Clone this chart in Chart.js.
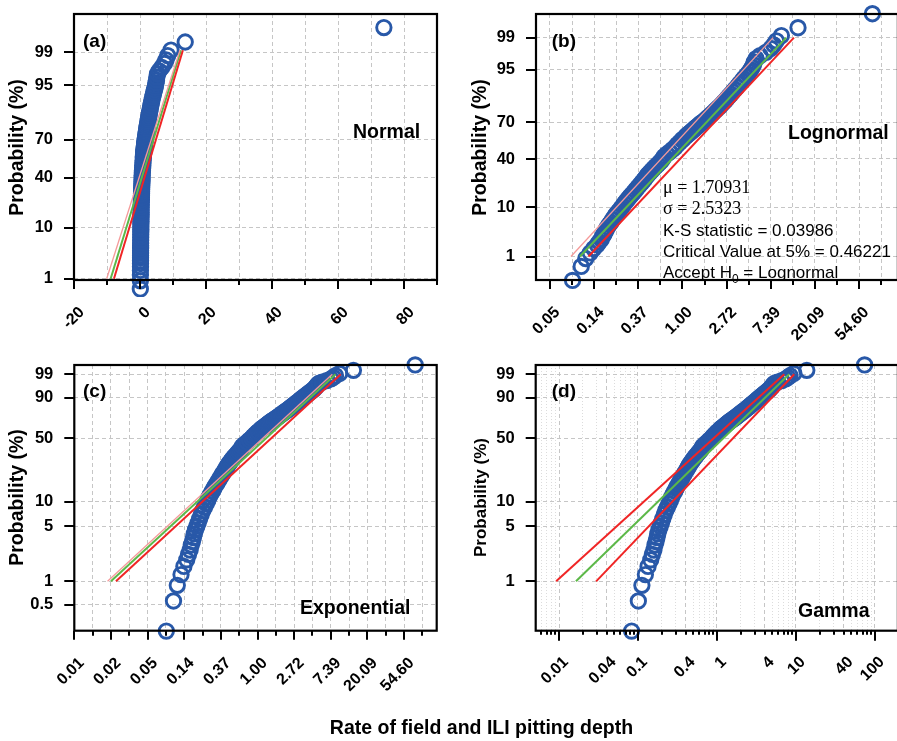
<!DOCTYPE html>
<html>
<head>
<meta charset="utf-8">
<script src="https://cdn.jsdelivr.net/npm/chart.js@4.4.1/dist/chart.umd.min.js"></script>
<style>
  html, body { margin: 0; padding: 0; background: #fff; width: 897px; height: 741px; overflow: hidden; }
  canvas { position: absolute; }
  #xtitle {
    position: absolute; left: 0; top: 718px; width: 963px; text-align: center;
    font: bold 19.5px "Liberation Sans", Arial, sans-serif; line-height: 19.5px; color: #000;
  }
</style>
</head>
<body>
<canvas id="pa" width="448" height="345" style="left:0;top:0"></canvas>
<canvas id="pb" width="460" height="345" style="left:448px;top:0"></canvas>
<canvas id="pc" width="448" height="396" style="left:0;top:345px"></canvas>
<canvas id="pd" width="460" height="396" style="left:448px;top:345px"></canvas>
<div id="xtitle">Rate of field and ILI pitting depth</div>
<script>
// cumulative probability (%) of each pit and its rate
const probPct = [0.23, 0.56, 0.89, 1.22, 1.55, 1.88, 2.2, 2.5, 2.9, 3.2,
  3.6, 4.0, 4.5, 5.0, 5.5, 6.2, 7.0, 7.8, 8.6, 9.5,
  10.5, 11.5, 12.5, 13.5, 14.5, 15.5, 16.7, 18, 19.5, 21,
  22.5, 24, 25.5, 27, 28, 29.5, 31, 32.5, 34, 35.5,
  37, 38.5, 40, 42, 44, 46, 48, 50, 52, 54,
  56, 57, 59, 60, 61, 62, 63, 64, 65, 66,
  67, 68, 69, 70, 71, 72, 73, 74, 75, 76,
  77, 78, 79, 80, 81, 82, 83, 84, 85, 86,
  87, 88, 89, 90, 91, 92, 92.7, 93.4, 94.0, 94.5,
  95.0, 95.5, 96.0, 96.5, 97.0, 97.4, 97.8, 98.2, 98.5, 98.8,
  99.11, 99.44, 99.77];
const rate = [0.083, 0.101, 0.112, 0.124, 0.134, 0.145, 0.152, 0.159, 0.164, 0.169,
  0.174, 0.178, 0.184, 0.191, 0.198, 0.206, 0.215, 0.224, 0.235, 0.247,
  0.258, 0.268, 0.280, 0.292, 0.303, 0.315, 0.330, 0.345, 0.362, 0.380,
  0.398, 0.415, 0.432, 0.448, 0.460, 0.480, 0.500, 0.522, 0.545, 0.570,
  0.595, 0.620, 0.640, 0.660, 0.70, 0.75, 0.80, 0.85, 0.89, 0.94,
  0.99, 1.02, 1.08, 1.11, 1.15, 1.19, 1.23, 1.27, 1.31, 1.35,
  1.40, 1.45, 1.50, 1.56, 1.63, 1.69, 1.75, 1.81, 1.88, 1.95,
  2.02, 2.10, 2.18, 2.27, 2.36, 2.45, 2.55, 2.65, 2.75, 2.87,
  3.00, 3.13, 3.28, 3.45, 3.63, 3.85, 4.00, 4.20, 4.40, 4.55,
  4.70, 4.85, 5.0, 5.1, 5.3, 5.8, 6.6, 7.4, 7.9, 8.4,
  9.4, 13.7, 73.9];

// fitted lines and bounds: probability at both ends, rate at both ends
const lineP = [1, 99];
const normLineP = [1, 99.1];
const normPinkX = [-10.1, 12.1];
const normGreenX = [-8.9, 12.4];
const normRedX = [-7.9, 13.0];
const lognPinkX = [0.080, 7.8];
const lognGreenX = [0.098, 10.5];
const lognRedX = [0.119, 12.5];
const expoPinkX = [0.0167, 7.7];
const expoGreenX = [0.0183, 8.4];
const expoRedX = [0.021, 9.7];
const gammaRedLoX = [0.0092, 7.1];
const gammaGreenX = [0.0164, 8.2];
const gammaRedHiX = [0.0295, 9.5];

// tick labels
const yTicksAB = [1, 10, 40, 70, 95, 99];
const yTicksC = [0.5, 1, 5, 10, 50, 90, 99];
const yTicksD = [1, 5, 10, 50, 90, 99];
const xTicksA = [-20, -10, 0, 10, 20, 30, 40, 50, 60, 70, 80, 90];
const xExpE = [-5, -4, -3, -2, -1, 0, 1, 2, 3, 4];
const xLabelsE = ['0.01', '0.02', '0.05', '0.14', '0.37', '1.00', '2.72', '7.39', '20.09', '54.60'];
const xTicksD = [0.01, 0.04, 0.1, 0.4, 1, 4, 10, 40, 100];
const xLabelsD = ['0.01', '0.04', '0.1', '0.4', '1', '4', '10', '40', '100'];

const BLUE = '#2858a8';
const RED = '#f02525';
const GREEN = '#5cb848';
const PINK = '#f59a9a';
const GRID = '#c6c6c6';
const SANS = '"Liberation Sans", Arial, sans-serif';
const SERIF = '"Liberation Serif", "Times New Roman", serif';

Chart.defaults.font.family = SANS;
Chart.defaults.color = '#000';

// probability paper scales
function normInv(p) {
  const a = [-3.969683028665376e+01, 2.209460984245205e+02, -2.759285104469687e+02, 1.383577518672690e+02, -3.066479806614716e+01, 2.506628277459239e+00];
  const b = [-5.447609879822406e+01, 1.615858368580409e+02, -1.556989798598866e+02, 6.680131188771972e+01, -1.328068155288572e+01];
  const c = [-7.784894002430293e-03, -3.223964580411365e-01, -2.400758277161838e+00, -2.549732539343734e+00, 4.374664141464968e+00, 2.938163982698783e+00];
  const d = [7.784695709041462e-03, 3.224671290700398e-01, 2.445134137142996e+00, 3.754408661907416e+00];
  let q, r;
  if (p < 0.02425) {
    q = Math.sqrt(-2 * Math.log(p));
    return (((((c[0]*q+c[1])*q+c[2])*q+c[3])*q+c[4])*q+c[5]) / ((((d[0]*q+d[1])*q+d[2])*q+d[3])*q+1);
  }
  if (p > 1 - 0.02425) {
    q = Math.sqrt(-2 * Math.log(1 - p));
    return -(((((c[0]*q+c[1])*q+c[2])*q+c[3])*q+c[4])*q+c[5]) / ((((d[0]*q+d[1])*q+d[2])*q+d[3])*q+1);
  }
  q = p - 0.5; r = q * q;
  return (((((a[0]*r+a[1])*r+a[2])*r+a[3])*r+a[4])*r+a[5])*q / (((((b[0]*r+b[1])*r+b[2])*r+b[3])*r+b[4])*r+1);
}
const PAPER = {
  normal: pct => normInv(pct / 100),
  weibull: pct => Math.log(-Math.log(1 - pct / 100)),
};

class ProbScale extends Chart.Scale {
  determineDataLimits() { this.min = this.options.min; this.max = this.options.max; }
  buildTicks() { return []; }
  configure() {
    super.configure();
    this._f = PAPER[this.options.paper];
    this._t0 = this._f(this.min);
    this._t1 = this._f(this.max);
  }
  getLabelForValue(v) { return String(v); }
  getPixelForValue(v) { return this.getPixelForDecimal((this._f(v) - this._t0) / (this._t1 - this._t0)); }
  getValueForPixel() { return null; }
}
ProbScale.id = 'prob';
ProbScale.defaults = {};
Chart.register(ProbScale);

const pts = (xs, ps) => xs.map((x, i) => ({ x, y: ps[i] }));

function lineSet(xs, ps, color, width) {
  return { data: pts(xs, ps), showLine: true, borderColor: color, borderWidth: width, pointRadius: 0, fill: false };
}

function pointSet(clip) {
  return {
    data: pts(rate, probPct), pointRadius: 7.2, pointBorderWidth: 2.9,
    pointBorderColor: BLUE, pointBackgroundColor: 'rgba(0,0,0,0)', clip,
  };
}

function eTicks(lo, hi) {
  const out = [];
  xExpE.forEach((k, i) => {
    if (k >= lo - 0.01 && k <= hi) out.push({ value: Math.exp(k), lbl: xLabelsE[i], len: 9 });
    if (k + 0.5 >= lo && k + 0.5 <= hi) out.push({ value: Math.exp(k + 0.5), lbl: '', len: 5 });
  });
  return out;
}

function dTicks(min, max) {
  const out = [];
  for (let e = -3; e <= 2; e++) {
    for (let m = 1; m <= 9; m++) {
      const v = +(m * Math.pow(10, e)).toPrecision(3);
      if (v < min || v > max) continue;
      const idx = xTicksD.findIndex(t => Math.abs(t - v) / v < 1e-6);
      out.push({ value: v, lbl: idx >= 0 ? xLabelsD[idx] : '', len: m === 1 ? 10 : 4, faint: m !== 1 && idx < 0 });
    }
  }
  return out;
}

function noPad(s) {
  s.paddingTop = 0; s.paddingBottom = 0; s.paddingLeft = 0; s.paddingRight = 0;
}

function drawText(ctx, t) {
  ctx.font = t.font;
  ctx.textAlign = t.align || 'left';
  ctx.textBaseline = t.base || 'alphabetic';
  ctx.fillText(t.text, t.x, t.y);
}

function decor(cfg) {
  return {
    id: 'decor',
    afterDraw(chart) {
      const { ctx, chartArea: a, scales: { x, y } } = chart;
      ctx.save();
      ctx.strokeStyle = '#000';
      ctx.lineWidth = 2;
      ctx.beginPath();
      cfg.yTicks.forEach(v => {
        const py = Math.round(y.getPixelForValue(v));
        ctx.moveTo(a.left - 10, py); ctx.lineTo(a.left, py);
      });
      x.ticks.forEach(t => {
        const px = Math.round(x.getPixelForValue(t.value));
        ctx.moveTo(px, a.bottom); ctx.lineTo(px, a.bottom + t.len);
      });
      ctx.stroke();
      ctx.lineWidth = 2.2;
      ctx.strokeRect(a.left, a.top, a.right - a.left, a.bottom - a.top);

      ctx.fillStyle = '#000';
      cfg.texts.forEach(t => drawText(ctx, t));

      ctx.save();
      ctx.translate(cfg.ytitle[0], cfg.ytitle[1]);
      ctx.rotate(-Math.PI / 2);
      drawText(ctx, { text: 'Probability (%)', x: 0, y: 0, font: 'bold ' + cfg.ytitle[2] + 'px ' + SANS, align: 'center', base: 'middle' });
      ctx.restore();
      if (cfg.extra) cfg.extra(ctx);
      ctx.restore();
    }
  };
}

function makeChart(id, o) {
  new Chart(document.getElementById(id), {
    type: 'scatter',
    data: { datasets: o.datasets },
    options: {
      responsive: false, animation: false, events: [],
      layout: { padding: { left: 0, top: o.top, right: o.right, bottom: 0 } },
      plugins: { legend: { display: false }, tooltip: { enabled: false } },
      scales: {
        x: Object.assign({
          bounds: 'data',
          afterBuildTicks: s => { s.ticks = o.xTicks; },
          afterFit: s => { s.height = o.xHeight; noPad(s); },
          grid: { color: c => (c.tick && c.tick.faint ? '#dcdcdc' : GRID), lineWidth: 1, drawTicks: false },
          border: { display: false, dash: c => (c.tick && c.tick.faint ? [1, 2] : [4, 3]) },
          ticks: {
            autoSkip: false, minRotation: 45, maxRotation: 45, padding: o.xPad, labelOffset: o.xOff,
            font: { size: 16, weight: 'bold' },
            callback: (v, i, ticks) => ticks[i].lbl,
          },
        }, o.x),
        y: {
          type: 'prob', paper: o.paper, min: o.yMin, max: o.yMax,
          afterBuildTicks: s => { s.ticks = o.yTicks.map(v => ({ value: v })); },
          afterFit: s => { s.width = o.yWidth; noPad(s); },
          grid: { color: GRID, lineWidth: 1, drawTicks: false },
          border: { display: false, dash: [4, 3] },
          ticks: { padding: 21, font: { size: 16.5, weight: 'bold' }, callback: v => String(v) },
        },
      },
    },
    plugins: [decor({ yTicks: o.yTicks, texts: o.texts, ytitle: o.ytitle, extra: o.extra })],
  });
}

const B19 = 'bold 19.5px ' + SANS;
const B19L = 'bold 19px ' + SANS;

// (a) Normal
makeChart('pa', {
  top: 14, right: 11, xHeight: 65, yWidth: 74, xPad: 23, xOff: 8,
  x: { type: 'linear', min: -20, max: 90 },
  xTicks: xTicksA.map(v => ({ value: v, lbl: (v % 20 === 0 && v < 90) ? String(v) : '', len: v % 20 === 0 ? 9 : 5 })),
  paper: 'normal', yMin: 0.93, yMax: 99.907, yTicks: yTicksAB,
  datasets: [
    lineSet(normPinkX, normLineP, PINK, 1.3),
    lineSet(normRedX, normLineP, RED, 2),
    lineSet(normGreenX, normLineP, GREEN, 2),
    pointSet({ left: 12, top: 14, right: 12, bottom: 17 }),
  ],
  ytitle: [18, 147.5, 19.5],
  texts: [
    { text: '(a)', x: 83, y: 42, font: B19L, base: 'middle' },
    { text: 'Normal', x: 353, y: 138, font: B19 },
  ],
});

// (b) Lognormal
makeChart('pb', {
  top: 14, right: 9, xHeight: 65, yWidth: 88, xPad: 23, xOff: 7.5,
  x: { type: 'logarithmic', min: Math.exp(-3.317), max: Math.exp(4.88) },
  xTicks: eTicks(-3.317, 4.88),
  paper: 'normal', yMin: 0.236, yMax: 99.766, yTicks: yTicksAB,
  datasets: [
    lineSet(lognPinkX, lineP, PINK, 1.3),
    lineSet(lognRedX, lineP, RED, 2),
    lineSet(lognGreenX, lineP, GREEN, 2),
    pointSet(false),
  ],
  ytitle: [33, 147.5, 19.5],
  texts: [
    { text: '(b)', x: 103.7, y: 42, font: B19L, base: 'middle' },
    { text: 'Lognormal', x: 340, y: 139, font: B19 },
    { text: 'μ = 1.70931', x: 215, y: 192.7, font: '18px ' + SERIF },
    { text: 'σ = 2.5323', x: 215, y: 214, font: '18px ' + SERIF },
    { text: 'K-S statistic = 0.03986', x: 215, y: 235.5, font: '17px ' + SANS },
    { text: 'Critical Value at 5% = 0.46221', x: 215, y: 257, font: '17px ' + SANS },
  ],
  extra: ctx => {
    ctx.font = '17px ' + SANS;
    ctx.textAlign = 'left';
    ctx.textBaseline = 'alphabetic';
    let x = 215;
    ctx.fillText('Accept H', x, 278.3);
    x += ctx.measureText('Accept H').width;
    ctx.font = '12px ' + SANS;
    ctx.fillText('0', x, 283);
    x += ctx.measureText('0').width;
    ctx.font = '17px ' + SANS;
    ctx.fillText(' = Lognormal', x, 278.3);
  },
});

// (c) Exponential
makeChart('pc', {
  top: 20, right: 11.3, xHeight: 110.3, yWidth: 74.3, xPad: 23, xOff: 7.5,
  x: { type: 'logarithmic', min: Math.exp(-5), max: Math.exp(4.89) },
  xTicks: eTicks(-5, 4.89),
  paper: 'weibull', yMin: 0.2328, yMax: 99.767, yTicks: yTicksC,
  datasets: [
    lineSet(expoPinkX, lineP, PINK, 1.3),
    lineSet(expoRedX, lineP, RED, 2),
    lineSet(expoGreenX, lineP, GREEN, 2),
    pointSet(false),
  ],
  ytitle: [18, 152.5, 19.5],
  texts: [
    { text: '(c)', x: 83, y: 46.5, font: B19L, base: 'middle' },
    { text: 'Exponential', x: 300, y: 269, font: B19 },
  ],
});

// (d) Gamma
makeChart('pd', {
  top: 20, right: 9, xHeight: 110.3, yWidth: 87.7, xPad: 22, xOff: 7,
  x: { type: 'logarithmic', min: 0.00507, max: 195 },
  xTicks: dTicks(0.00507, 195),
  paper: 'weibull', yMin: 0.2328, yMax: 99.767, yTicks: yTicksD,
  datasets: [
    lineSet(gammaRedLoX, lineP, RED, 2),
    lineSet(gammaRedHiX, lineP, RED, 2),
    lineSet(gammaGreenX, lineP, GREEN, 2),
    pointSet(false),
  ],
  ytitle: [33.7, 152.5, 17],
  texts: [
    { text: '(d)', x: 103.7, y: 46.5, font: B19L, base: 'middle' },
    { text: 'Gamma', x: 350, y: 272, font: B19 },
  ],
});
</script>
</body>
</html>
